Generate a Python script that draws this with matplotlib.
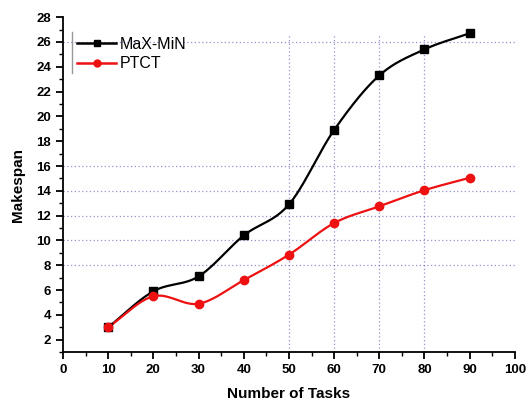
import numpy as np
import matplotlib
matplotlib.use("Agg")
import matplotlib.pyplot as plt
from matplotlib.ticker import MultipleLocator

tasks = [10, 20, 30, 40, 50, 60, 70, 80, 90]
maxmin = [3.0, 5.9, 7.1, 10.4, 12.9, 18.9, 23.3, 25.4, 26.7]
ptct = [3.0, 5.5, 4.9, 6.8, 8.85, 11.4, 12.75, 14.05, 15.05]
x_ticks = list(range(0, 101, 10))
y_ticks = list(range(2, 29, 2))
h_grid = [8, 10, 12, 14, 16, 26]
v_grid = [50, 60, 70, 80]

def smooth(x, y, n=30):
    x = np.asarray(x, float); y = np.asarray(y, float)
    m = len(x)
    t = np.zeros(m)
    for i in range(m):
        lo, hi = max(i - 1, 0), min(i + 1, m - 1)
        t[i] = (y[hi] - y[lo]) / (x[hi] - x[lo])
    xs, ys = [], []
    for i in range(m - 1):
        h = x[i + 1] - x[i]
        s = np.linspace(0, 1, n, endpoint=(i == m - 2))
        h00 = 2 * s**3 - 3 * s**2 + 1
        h10 = s**3 - 2 * s**2 + s
        h01 = -2 * s**3 + 3 * s**2
        h11 = s**3 - s**2
        xs.append(x[i] + s * h)
        ys.append(h00 * y[i] + h10 * h * t[i] + h01 * y[i + 1] + h11 * h * t[i + 1])
    return np.concatenate(xs), np.concatenate(ys)

plt.rcParams['font.family'] = ['Liberation Sans', 'DejaVu Sans']
fig = plt.figure(figsize=(5.31, 4.08), dpi=100)
ax = fig.add_axes([0.1186, 0.137, 0.851, 0.821])

for yv in h_grid:
    ax.axhline(yv, color='#4a4ab0', lw=0.9, ls=(0, (1, 2)), alpha=0.6, zorder=0)
for xv in v_grid:
    ax.plot([xv, xv], [1, 26.6], color='#4a4ab0', lw=0.9, ls=(0, (1, 2)), alpha=0.6, zorder=0)

sx, sy = smooth(tasks, maxmin)
ax.plot(sx, sy, color='black', lw=1.6, zorder=2)
ax.plot(tasks, maxmin, ls='none', marker='s', ms=6, color='black', zorder=3)
sx, sy = smooth(tasks, ptct)
ax.plot(sx, sy, color='#ee1111', lw=1.6, zorder=2)
ax.plot(tasks, ptct, ls='none', marker='o', ms=6, color='#ee1111', zorder=3)

h1, = ax.plot([], [], color='black', lw=1.8, marker='s', ms=5, label='MaX-MiN')
h2, = ax.plot([], [], color='#ee1111', lw=1.8, marker='o', ms=5, label='PTCT')
leg = ax.legend(handles=[h1, h2], loc='upper left', bbox_to_anchor=(0.0, 0.985),
                frameon=False, fontsize=11.5, handlelength=2.4, handletextpad=0.25,
                labelspacing=0.3, borderaxespad=0.5)
ax.plot([2, 2], [23.5, 26.8], color='#999999', lw=1.0, zorder=1)

ax.set_xlim(0, 100)
ax.set_ylim(1, 28)
ax.set_xticks(x_ticks)
ax.set_yticks(y_ticks)
ax.xaxis.set_minor_locator(MultipleLocator(5))
ax.yaxis.set_minor_locator(MultipleLocator(1))
ax.spines['top'].set_visible(False)
ax.spines['right'].set_visible(False)
for s in ['left', 'bottom']:
    ax.spines[s].set_linewidth(1.3)
ax.tick_params(which='major', direction='out', length=5, width=1.3, labelsize=9.5)
ax.tick_params(which='minor', direction='out', length=3, width=1.0)
for lab in ax.get_xticklabels() + ax.get_yticklabels():
    lab.set_fontweight('bold')
ax.set_xlabel('Number of Tasks', fontsize=11, fontweight='bold', labelpad=8)
ax.set_ylabel('Makespan', fontsize=11, fontweight='bold', labelpad=8)

fig.savefig('out.png', dpi=100)
